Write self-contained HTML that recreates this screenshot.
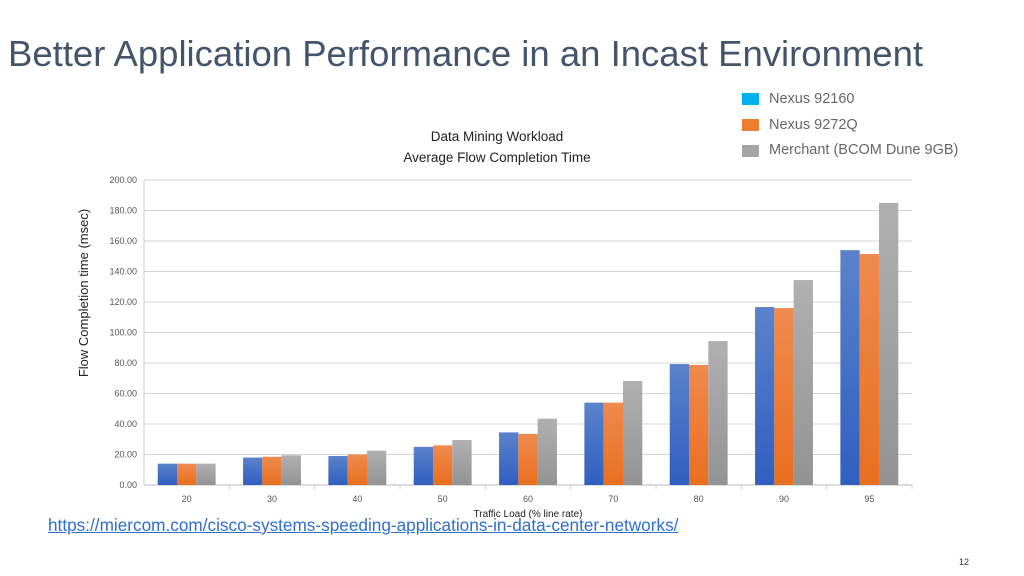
<!DOCTYPE html>
<html><head><meta charset="utf-8"><style>
body{margin:0;width:1024px;height:576px;background:#fff;font-family:"Liberation Sans",sans-serif;overflow:hidden;position:relative}
.t{position:absolute;white-space:nowrap}
</style></head><body>
<div class="t" style="left:8px;top:33px;font-size:36.5px;color:#44546a">Better Application Performance in an Incast Environment</div>
<svg width="1024" height="576" style="position:absolute;left:0;top:0">
<defs>
<linearGradient id="gb" x1="0" y1="0" x2="0" y2="1"><stop offset="0" stop-color="#5b82cc"/><stop offset="1" stop-color="#2f5fbf"/></linearGradient>
<linearGradient id="go" x1="0" y1="0" x2="0" y2="1"><stop offset="0" stop-color="#ef8a4e"/><stop offset="1" stop-color="#e96f1e"/></linearGradient>
<linearGradient id="gg" x1="0" y1="0" x2="0" y2="1"><stop offset="0" stop-color="#b0b0b0"/><stop offset="1" stop-color="#939393"/></linearGradient>
</defs>
<g id="grid"></g><g id="bars"></g><g id="labels"></g>
<text x="497" y="141" text-anchor="middle" font-size="13.5" fill="#222">Data Mining Workload</text>
<text x="497" y="162" text-anchor="middle" font-size="13.5" fill="#222">Average Flow Completion Time</text>
<text x="528" y="517" text-anchor="middle" font-size="10" fill="#222">Traffic Load (% line rate)</text>
<text transform="translate(88,293) rotate(-90)" text-anchor="middle" font-size="13" fill="#222">Flow Completion time (msec)</text>
<g>
<rect x="742" y="93" width="17" height="12" fill="#00b0f0"/>
<text x="769" y="103" font-size="14.5" fill="#666">Nexus 92160</text>
<rect x="742" y="119" width="17" height="12" fill="#ed7d31"/>
<text x="769" y="129" font-size="14.5" fill="#666">Nexus 9272Q</text>
<rect x="742" y="145" width="17" height="12" fill="#a5a5a5"/>
<text x="769" y="154" font-size="14.5" fill="#666">Merchant (BCOM Dune 9GB)</text>
</g>
</svg>
<div class="t" style="left:48px;top:515px;font-size:17.2px;color:#2f6fcf;text-decoration:underline">https://miercom.com/cisco-systems-speeding-applications-in-data-center-networks/</div>
<div class="t" style="left:959px;top:557px;font-size:9px;color:#333">12</div>
<script>
const categories=["20","30","40","50","60","70","80","90","95"];
const nexus92160=[14,18,19,25,34.5,54,79.3,116.7,154];
const nexus9272q=[14,18.5,20,26,33.5,54,78.7,116,151.5];
const merchant=[14,19.5,22.5,29.5,43.5,68.2,94.4,134.4,185];
const yTicks=[0,20,40,60,80,100,120,140,160,180,200];
const L=144,R=912,T=180,B=485,yMax=200;
const ns="http://www.w3.org/2000/svg";
const y=v=>B-(v/yMax)*(B-T);
const step=(R-L)/categories.length;
const x=i=>L+step*i;
function mk(tag,attrs,parent){const e=document.createElementNS(ns,tag);for(const k in attrs)e.setAttribute(k,attrs[k]);document.getElementById(parent).appendChild(e);return e;}
yTicks.forEach(v=>{
 const g=mk("line",{x1:L,x2:R,y1:y(v),y2:y(v),stroke:v===0?"#bbb":"#d4d4d4","stroke-width":1},"grid");
 
 
 const t=mk("text",{x:L-7,y:y(v)+3,"text-anchor":"end","font-size":9,fill:"#555"},"labels");
 t.textContent=v.toFixed(2);
 
 
});
mk("line",{x1:L,x2:L,y1:T,y2:B,stroke:"#ccc"},"grid");
categories.forEach((c,i)=>{
 const tk=mk("line",{x1:x(i+1),x2:x(i+1),y1:B,y2:B+4,stroke:"#ccc"},"grid");
 
 
 const t=mk("text",{x:x(i)+step/2,y:B+17,"text-anchor":"middle","font-size":9,fill:"#555"},"labels");
 t.textContent=c;
 
 
 const bw=19.3,start=x(i)+step/2-bw*1.5;
 [[nexus92160,"url(#gb)"],[nexus9272q,"url(#go)"],[merchant,"url(#gg)"]].forEach((s,j)=>{
  const r=mk("rect",{x:start+bw*j,y:y(s[0][i]),width:bw,height:B-y(s[0][i]),fill:s[1]},"bars");
  
  
 });
});
</script>
</body></html>
